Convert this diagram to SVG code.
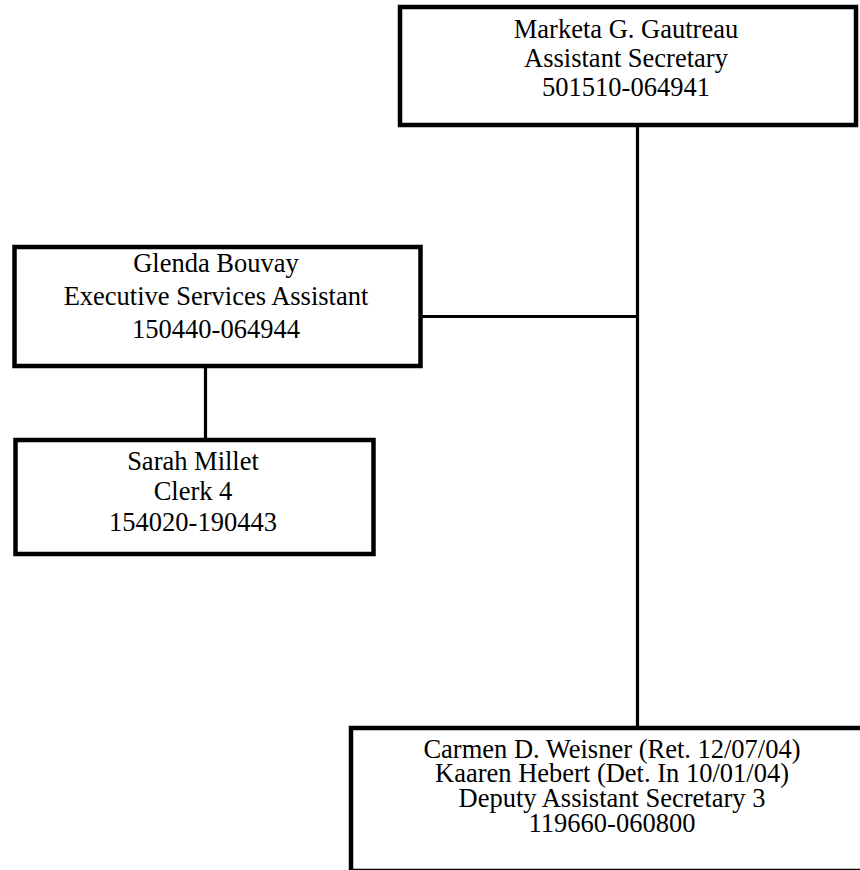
<svg xmlns="http://www.w3.org/2000/svg" width="860" height="870" viewBox="0 0 860 870">
<style>
.box{fill:#fff;stroke:#000;stroke-width:4.5}
.con{fill:none;stroke:#000;stroke-width:3.2}
text{font-family:"Liberation Serif","Times New Roman",serif;font-size:26.5px;fill:#000;text-anchor:middle}
</style>
<rect width="860" height="870" fill="#fff"/>
<g id="connectors">
<line class="con" x1="637.5" y1="127" x2="637.5" y2="727"/>
<line class="con" x1="422" y1="316.5" x2="637.5" y2="316.5"/>
<line class="con" x1="205.5" y1="368" x2="205.5" y2="439"/>
</g>
<g id="node-gautreau">
<rect class="box" x="400" y="7" width="456" height="118"/>
<text x="626" y="38">Marketa G. Gautreau</text>
<text x="626" y="67">Assistant Secretary</text>
<text x="626" y="96">501510-064941</text>
</g>
<g id="node-bouvay">
<rect class="box" x="14.5" y="247" width="406" height="119"/>
<text x="216" y="272">Glenda Bouvay</text>
<text x="216" y="305">Executive Services Assistant</text>
<text x="216" y="338">150440-064944</text>
</g>
<g id="node-millet">
<rect class="box" x="15.5" y="440" width="358" height="114"/>
<text x="193" y="470">Sarah Millet</text>
<text x="193" y="500">Clerk 4</text>
<text x="193" y="530.5">154020-190443</text>
</g>
<g id="node-weisner">
<rect class="box" x="351" y="728" width="600" height="143"/>
<text x="612" y="757.5">Carmen D. Weisner (Ret. 12/07/04)</text>
<text x="612" y="782">Kaaren Hebert (Det. In 10/01/04)</text>
<text x="612" y="806.5">Deputy Assistant Secretary 3</text>
<text x="612" y="832">119660-060800</text>
</g>
</svg>
